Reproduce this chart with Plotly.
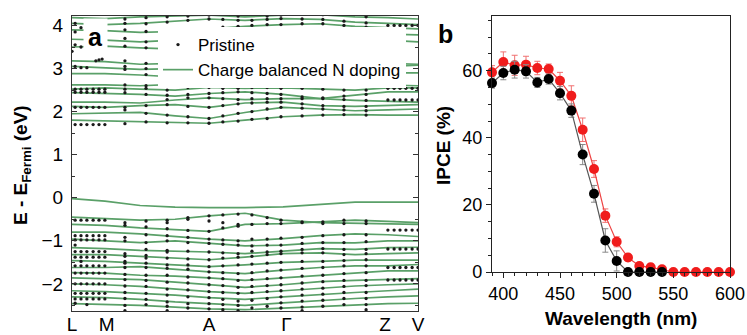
import plotly.graph_objects as go

# ---------------- Panel a: band structure ----------------
k_grid = [0, 0.095, 0.197, 0.298, 0.396, 0.5, 0.61, 0.717, 0.818, 0.913, 1.0]
sym_labels = ["L", "M", "A", "Γ", "Z", "V"]
sym_k = [0.0, 0.10, 0.396, 0.62, 0.905, 1.0]

doped_bands = [
    [1.80, 1.78, 1.76, 1.74, 1.73, 1.80, 1.88, 1.92, 1.93, 1.92, 1.92],
    [1.95, 1.96, 1.98, 1.90, 1.84, 1.98, 2.10, 2.06, 2.02, 2.04, 2.06],
    [2.12, 2.10, 2.14, 2.16, 2.10, 2.20, 2.22, 2.14, 2.12, 2.14, 2.16],
    [2.22, 2.22, 2.20, 2.27, 2.32, 2.28, 2.30, 2.30, 2.26, 2.24, 2.22],
    [2.44, 2.42, 2.40, 2.36, 2.42, 2.46, 2.40, 2.30, 2.38, 2.46, 2.46],
    [2.52, 2.55, 2.52, 2.50, 2.56, 2.54, 2.55, 2.52, 2.50, 2.55, 2.55],
    [2.62, 2.62, 2.60, 2.63, 2.58, 2.63, 2.66, 2.62, 2.63, 2.62, 2.60],
    [2.88, 2.88, 2.85, 2.80, 2.76, 2.82, 2.90, 2.95, 2.92, 2.90, 2.90],
    [3.05, 3.02, 2.98, 3.00, 3.06, 3.00, 2.95, 2.98, 3.02, 3.05, 3.08],
    [3.18, 3.16, 3.10, 3.12, 3.16, 3.10, 3.06, 3.10, 3.14, 3.12, 3.10],
    [3.50, 3.52, 3.48, 3.45, 3.52, 3.58, 3.66, 3.72, 3.70, 3.66, 3.62],
    [3.68, 3.66, 3.62, 3.66, 3.74, 3.82, 3.88, 3.86, 3.82, 3.80, 3.78],
    [3.90, 3.88, 3.84, 3.86, 3.92, 3.98, 4.02, 4.04, 3.98, 3.95, 3.92],
    [4.05, 4.02, 4.05, 4.10, 4.15, 4.12, 4.16, 4.14, 4.08, 4.05, 4.02],
    [4.18, 4.16, 4.20, 4.22, 4.24, 4.20, 4.24, 4.25, 4.20, 4.18, 4.15],
    [-0.02, -0.08, -0.18, -0.22, -0.23, -0.23, -0.21, -0.16, -0.10, -0.10, -0.10],
    [-0.45, -0.48, -0.52, -0.50, -0.42, -0.36, -0.52, -0.58, -0.60, -0.62, -0.62],
    [-0.62, -0.64, -0.70, -0.74, -0.78, -0.62, -0.60, -0.56, -0.52, -0.55, -0.58],
    [-0.80, -0.80, -0.84, -0.90, -0.96, -1.00, -0.95, -0.88, -0.84, -0.86, -0.90],
    [-0.96, -1.00, -1.04, -1.00, -1.06, -1.12, -1.10, -1.04, -1.05, -1.00, -1.00],
    [-1.16, -1.18, -1.22, -1.24, -1.26, -1.30, -1.24, -1.18, -1.20, -1.16, -1.15],
    [-1.32, -1.32, -1.36, -1.40, -1.44, -1.38, -1.30, -1.28, -1.32, -1.30, -1.28],
    [-1.46, -1.48, -1.52, -1.56, -1.60, -1.56, -1.50, -1.48, -1.45, -1.45, -1.45],
    [-1.62, -1.62, -1.60, -1.66, -1.72, -1.76, -1.68, -1.62, -1.58, -1.58, -1.55],
    [-1.74, -1.75, -1.80, -1.82, -1.86, -1.92, -1.86, -1.80, -1.74, -1.70, -1.70],
    [-1.86, -1.88, -1.90, -1.96, -2.02, -2.08, -2.02, -1.95, -1.92, -1.90, -1.88],
    [-2.00, -2.02, -2.06, -2.12, -2.18, -2.22, -2.16, -2.10, -2.05, -2.02, -2.00],
    [-2.16, -2.18, -2.22, -2.26, -2.32, -2.36, -2.30, -2.24, -2.20, -2.16, -2.12],
    [-2.30, -2.32, -2.36, -2.42, -2.46, -2.50, -2.44, -2.38, -2.34, -2.30, -2.28],
    [-2.46, -2.48, -2.50, -2.54, -2.58, -2.60, -2.56, -2.52, -2.48, -2.46, -2.45],
]

# pristine: dense rows near L and near Z-V
left_cols_k = [0.009, 0.026, 0.043, 0.061, 0.078, 0.095]
left_rows_E = [1.70, 2.10, 2.45, 2.52, -0.52, -0.88, -0.98, -1.25, -1.38,
               -1.58, -1.75, -2.00, -2.22, -2.35]
right_cols_k = [0.913, 0.931, 0.948, 0.965, 0.983, 1.0]
right_rows_E = [4.00, 2.54, 2.27, -0.75, -1.19, -1.62, -1.91]
extra_k = [0.0, 0.009, 0.009, 0.009, 0.009, 0.026, 0.026, 0.026, 0.043,
           0.069, 0.078, 0.087, 0.009, 0.026, 0.009, 0.043]
extra_E = [3.40, 3.05, 3.55, 3.85, 4.05, 3.02, 3.50, 3.95, 3.02,
           3.18, 3.20, 3.22, -1.10, -1.48, -2.45, -2.48]

# pristine: columns along the path
col_k = [0.153, 0.214, 0.275, 0.335, 0.396, 0.436, 0.480, 0.520, 0.564,
         0.604, 0.665, 0.725, 0.786, 0.850]
col_E = [
    [1.72, 2.04, 2.10, 2.44, 2.52, 2.62, 2.98, 3.05, 3.18, 3.52, 3.70, 3.90, 4.05, 4.15,
     -0.58, -0.64, -0.92, -1.00, -1.30, -1.36, -1.48, -1.52, -1.62, -1.78, -1.90, -2.05, -2.20, -2.34, -2.50, -2.62],
    [1.76, 1.96, 2.14, 2.40, 2.54, 2.60, 2.86, 3.00, 3.12, 3.48, 3.62, 3.86, 4.04, 4.18,
     -0.54, -0.68, -0.86, -1.04, -1.20, -1.34, -1.40, -1.52, -1.62, -1.80, -1.92, -2.06, -2.22, -2.36, -2.48],
    [1.74, 1.92, 2.16, 2.28, 2.38, 2.50, 2.80, 3.00, 3.12, 3.45, 3.66, 3.86, 4.08, 4.20,
     -0.52, -0.58, -0.72, -0.88, -1.00, -1.22, -1.26, -1.40, -1.56, -1.64, -1.80, -1.96, -2.12, -2.26, -2.42, -2.52, -2.62],
    [1.74, 1.88, 2.12, 2.32, 2.40, 2.56, 2.78, 3.04, 3.14, 3.50, 3.70, 3.90, 4.12, 4.22,
     -0.46, -0.50, -0.76, -0.92, -1.04, -1.24, -1.42, -1.56, -1.66, -1.84, -1.98, -2.14, -2.30, -2.46, -2.56],
    [1.73, 1.84, 2.10, 2.32, 2.42, 2.56, 2.58, 2.76, 3.06, 3.16, 3.52, 3.74, 3.92, 4.15, 4.24,
     -0.42, -0.54, -0.78, -0.96, -1.06, -1.26, -1.44, -1.60, -1.72, -1.86, -2.02, -2.18, -2.32, -2.46, -2.58],
    [1.76, 1.90, 2.14, 2.30, 2.44, 2.54, 2.62, 2.80, 3.02, 3.12, 3.56, 3.78, 3.96, 4.14,
     -0.40, -0.58, -0.70, -0.98, -1.08, -1.28, -1.40, -1.58, -1.74, -1.88, -2.04, -2.20, -2.36, -2.48, -2.60],
    [1.78, 1.96, 2.18, 2.28, 2.46, 2.54, 2.64, 2.82, 3.00, 3.10, 3.58, 3.80, 3.98, 4.12, 4.22,
     -0.38, -0.62, -0.66, -1.00, -1.10, -1.30, -1.38, -1.56, -1.76, -1.92, -2.08, -2.22, -2.40, -2.50, -2.62],
    [1.82, 2.00, 2.20, 2.30, 2.44, 2.56, 2.64, 2.84, 2.98, 3.08, 3.60, 3.84, 4.00, 4.12,
     -0.40, -0.62, -0.96, -1.12, -1.24, -1.36, -1.54, -1.74, -1.90, -2.06, -2.20, -2.38, -2.56],
    [1.84, 2.06, 2.22, 2.30, 2.42, 2.56, 2.66, 2.88, 2.96, 3.08, 3.64, 3.86, 4.02, 4.14, 4.22,
     -0.46, -0.60, -0.96, -1.10, -1.26, -1.32, -1.52, -1.70, -1.88, -2.04, -2.18, -2.34, -2.52],
    [1.88, 2.10, 2.22, 2.30, 2.40, 2.54, 2.66, 2.90, 2.94, 3.06, 3.66, 3.88, 4.02, 4.16, 4.24,
     -0.52, -0.60, -0.94, -1.10, -1.24, -1.30, -1.50, -1.68, -1.86, -2.02, -2.16, -2.30, -2.44, -2.56],
    [1.90, 2.08, 2.18, 2.30, 2.34, 2.54, 2.64, 2.92, 2.96, 3.08, 3.70, 3.88, 4.04, 4.15,
     -0.56, -0.58, -0.92, -1.06, -1.20, -1.28, -1.48, -1.64, -1.82, -1.98, -2.12, -2.26, -2.40, -2.54, -2.62],
    [1.92, 2.06, 2.14, 2.30, 2.32, 2.52, 2.62, 2.95, 2.98, 3.10, 3.72, 3.86, 4.04, 4.14, 4.25,
     -0.56, -0.60, -0.88, -1.04, -1.18, -1.28, -1.48, -1.62, -1.80, -1.95, -2.10, -2.24, -2.38, -2.52],
    [1.93, 2.04, 2.12, 2.28, 2.36, 2.50, 2.62, 2.92, 3.00, 3.12, 3.72, 3.84, 4.00, 4.10,
     -0.52, -0.60, -0.86, -1.04, -1.20, -1.32, -1.46, -1.58, -1.76, -1.92, -2.06, -2.20, -2.34, -2.48],
    [1.92, 2.02, 2.12, 2.26, 2.40, 2.50, 2.62, 2.90, 3.04, 3.14, 3.68, 3.80, 3.96, 4.06, 4.20,
     -0.54, -0.60, -0.86, -1.02, -1.20, -1.30, -1.44, -1.58, -1.74, -1.92, -2.04, -2.20, -2.34, -2.48, -2.60],
]

# ---------------- Panel b: IPCE ----------------
wl_red = [390, 400, 410, 420, 430, 440, 450, 460, 470, 480, 490, 500, 510,
          520, 530, 540, 550, 560, 570, 580, 590, 600]
ipce_red = [59.5, 62.6, 61.6, 61.8, 60.8, 60.5, 57.0, 52.5, 42.4, 30.7, 16.8,
            9.0, 4.3, 1.8, 1.4, 0.8, 0, 0, 0, 0, 0, 0]
err_red = [2.0, 3.0, 3.0, 2.5, 2.0, 1.5, 2.5, 3.0, 3.5, 2.5, 2.0, 1.5, 1.0,
           1.0, 1.0, 0.5, 0, 0, 0, 0, 0, 0]
wl_black = [390, 400, 410, 420, 430, 440, 450, 460, 470, 480, 490, 500, 510,
            520, 530, 540]
ipce_black = [56.3, 59.3, 60.3, 59.8, 56.5, 57.5, 53.3, 48.1, 35.0, 23.3, 9.4,
              3.3, 0, 0, 0, 0]
err_black = [1.5, 2.0, 2.5, 2.0, 1.5, 1.5, 2.0, 2.0, 3.0, 2.5, 3.5, 3.0, 1.0,
             0, 0, 0]

GREEN = "#5aa068"
FONT = "Liberation Sans, Arial, sans-serif"

fig = go.Figure()

# green bands
bx, by = [], []
for band in doped_bands:
    bx += list(k_grid) + [None]
    by += list(band) + [None]
fig.add_trace(go.Scatter(x=bx, y=by, mode="lines", name="Charge balanced N doping",
                         line=dict(color=GREEN, width=1.7), legendrank=2,
                         xaxis="x", yaxis="y"))

# pristine dots
dx, dy = [], []
for k in left_cols_k:
    for e in left_rows_E:
        dx.append(k); dy.append(e)
for k in right_cols_k:
    for e in right_rows_E:
        dx.append(k); dy.append(e)
dx += extra_k
dy += extra_E
for k, es in zip(col_k, col_E):
    for e in es:
        dx.append(k); dy.append(e)
fig.add_trace(go.Scatter(x=dx, y=dy, mode="markers", name="Pristine",
                         marker=dict(color="#1a1a1a", size=3.3), legendrank=1,
                         xaxis="x", yaxis="y"))

# IPCE curves
fig.add_trace(go.Scatter(x=wl_red, y=ipce_red, mode="lines+markers", showlegend=False,
                         line=dict(color="#ee4444", width=1.2),
                         marker=dict(color="#f01c1c", size=10),
                         error_y=dict(type="data", array=err_red, color="#f07070",
                                      thickness=1, width=3),
                         cliponaxis=False, xaxis="x2", yaxis="y2"))
fig.add_trace(go.Scatter(x=wl_black, y=ipce_black, mode="lines+markers", showlegend=False,
                         line=dict(color="#555555", width=1.2),
                         marker=dict(color="#000000", size=10),
                         error_y=dict(type="data", array=err_black, color="#888888",
                                      thickness=1, width=3),
                         cliponaxis=False, xaxis="x2", yaxis="y2"))

W, H = 747, 335
def px_x(p):
    return p / W
def px_y(p):
    return 1 - p / H

fig.update_layout(
    width=W, height=H, margin=dict(l=0, r=0, t=0, b=0, autoexpand=False),
    paper_bgcolor="white", plot_bgcolor="white",
    font=dict(family=FONT, color="black", size=18),
    showlegend=True,
    legend=dict(x=px_x(158), y=px_y(27), xanchor="left", yanchor="top",
                bgcolor="white", borderwidth=0, font=dict(size=17),
                tracegroupgap=0, itemwidth=30),
    xaxis=dict(domain=[px_x(72), px_x(418)], range=[0, 1], automargin=False,
               tickvals=sym_k, ticktext=sym_labels, ticks="", showgrid=False,
               zeroline=False, showline=True, linecolor="#333", linewidth=1.3,
               mirror=True, tickfont=dict(size=19), anchor="y",
               ticklabelstandoff=-4),
    yaxis=dict(domain=[px_y(311), px_y(16)], range=[-2.63, 4.22], automargin=False,
               tickvals=[-2, -1, 0, 1, 2, 3, 4], ticks="inside", ticklen=5,
               tickcolor="#333", showgrid=False, zeroline=False, showline=True,
               linecolor="#333", linewidth=1.3, mirror="allticks",
               minor=dict(dtick=0.5, tick0=0, ticks="inside", ticklen=3, tickcolor="#333"),
               tickfont=dict(size=19), anchor="x", ticklabelstandoff=4),
    xaxis2=dict(domain=[px_x(492), px_x(730)], range=[390, 600], automargin=False,
                tickvals=[400, 450, 500, 550, 600], ticks="outside", ticklen=5,
                tickcolor="#222", showgrid=False, zeroline=False, showline=True,
                linecolor="#222", linewidth=1.3, mirror=True,
                minor=dict(dtick=10, tick0=0, ticks="outside", ticklen=3, tickcolor="#222"),
                tickfont=dict(size=18), anchor="y2"),
    yaxis2=dict(domain=[px_y(272), px_y(16)], range=[0, 76.3], automargin=False,
                tickvals=[0, 20, 40, 60], ticks="outside", ticklen=5,
                tickcolor="#222", showgrid=False, zeroline=False, showline=True,
                linecolor="#222", linewidth=1.3, mirror=True,
                minor=dict(dtick=5, tick0=0, ticks="outside", ticklen=3, tickcolor="#222"),
                tickfont=dict(size=18), anchor="x2"),
)

annots = [
    dict(text="<b>a</b>", x=px_x(95), y=px_y(37), font=dict(size=25),
         bgcolor="white", borderpad=4),
    dict(text="<b>b</b>", x=px_x(445), y=px_y(34), font=dict(size=25)),
    dict(text="<b>E - E<sub>Fermi</sub> (eV)</b>", x=px_x(22), y=px_y(165),
         textangle=-90, font=dict(size=19)),
    dict(text="<b>IPCE (%)</b>", x=px_x(444), y=px_y(145),
         textangle=-90, font=dict(size=19)),
    dict(text="<b>Wavelength (nm)</b>", x=px_x(621), y=px_y(318),
         font=dict(size=19)),
]
for a in annots:
    fig.add_annotation(xref="paper", yref="paper", showarrow=False,
                       xanchor="center", yanchor="middle", **a)

fig.write_html("out.html")
